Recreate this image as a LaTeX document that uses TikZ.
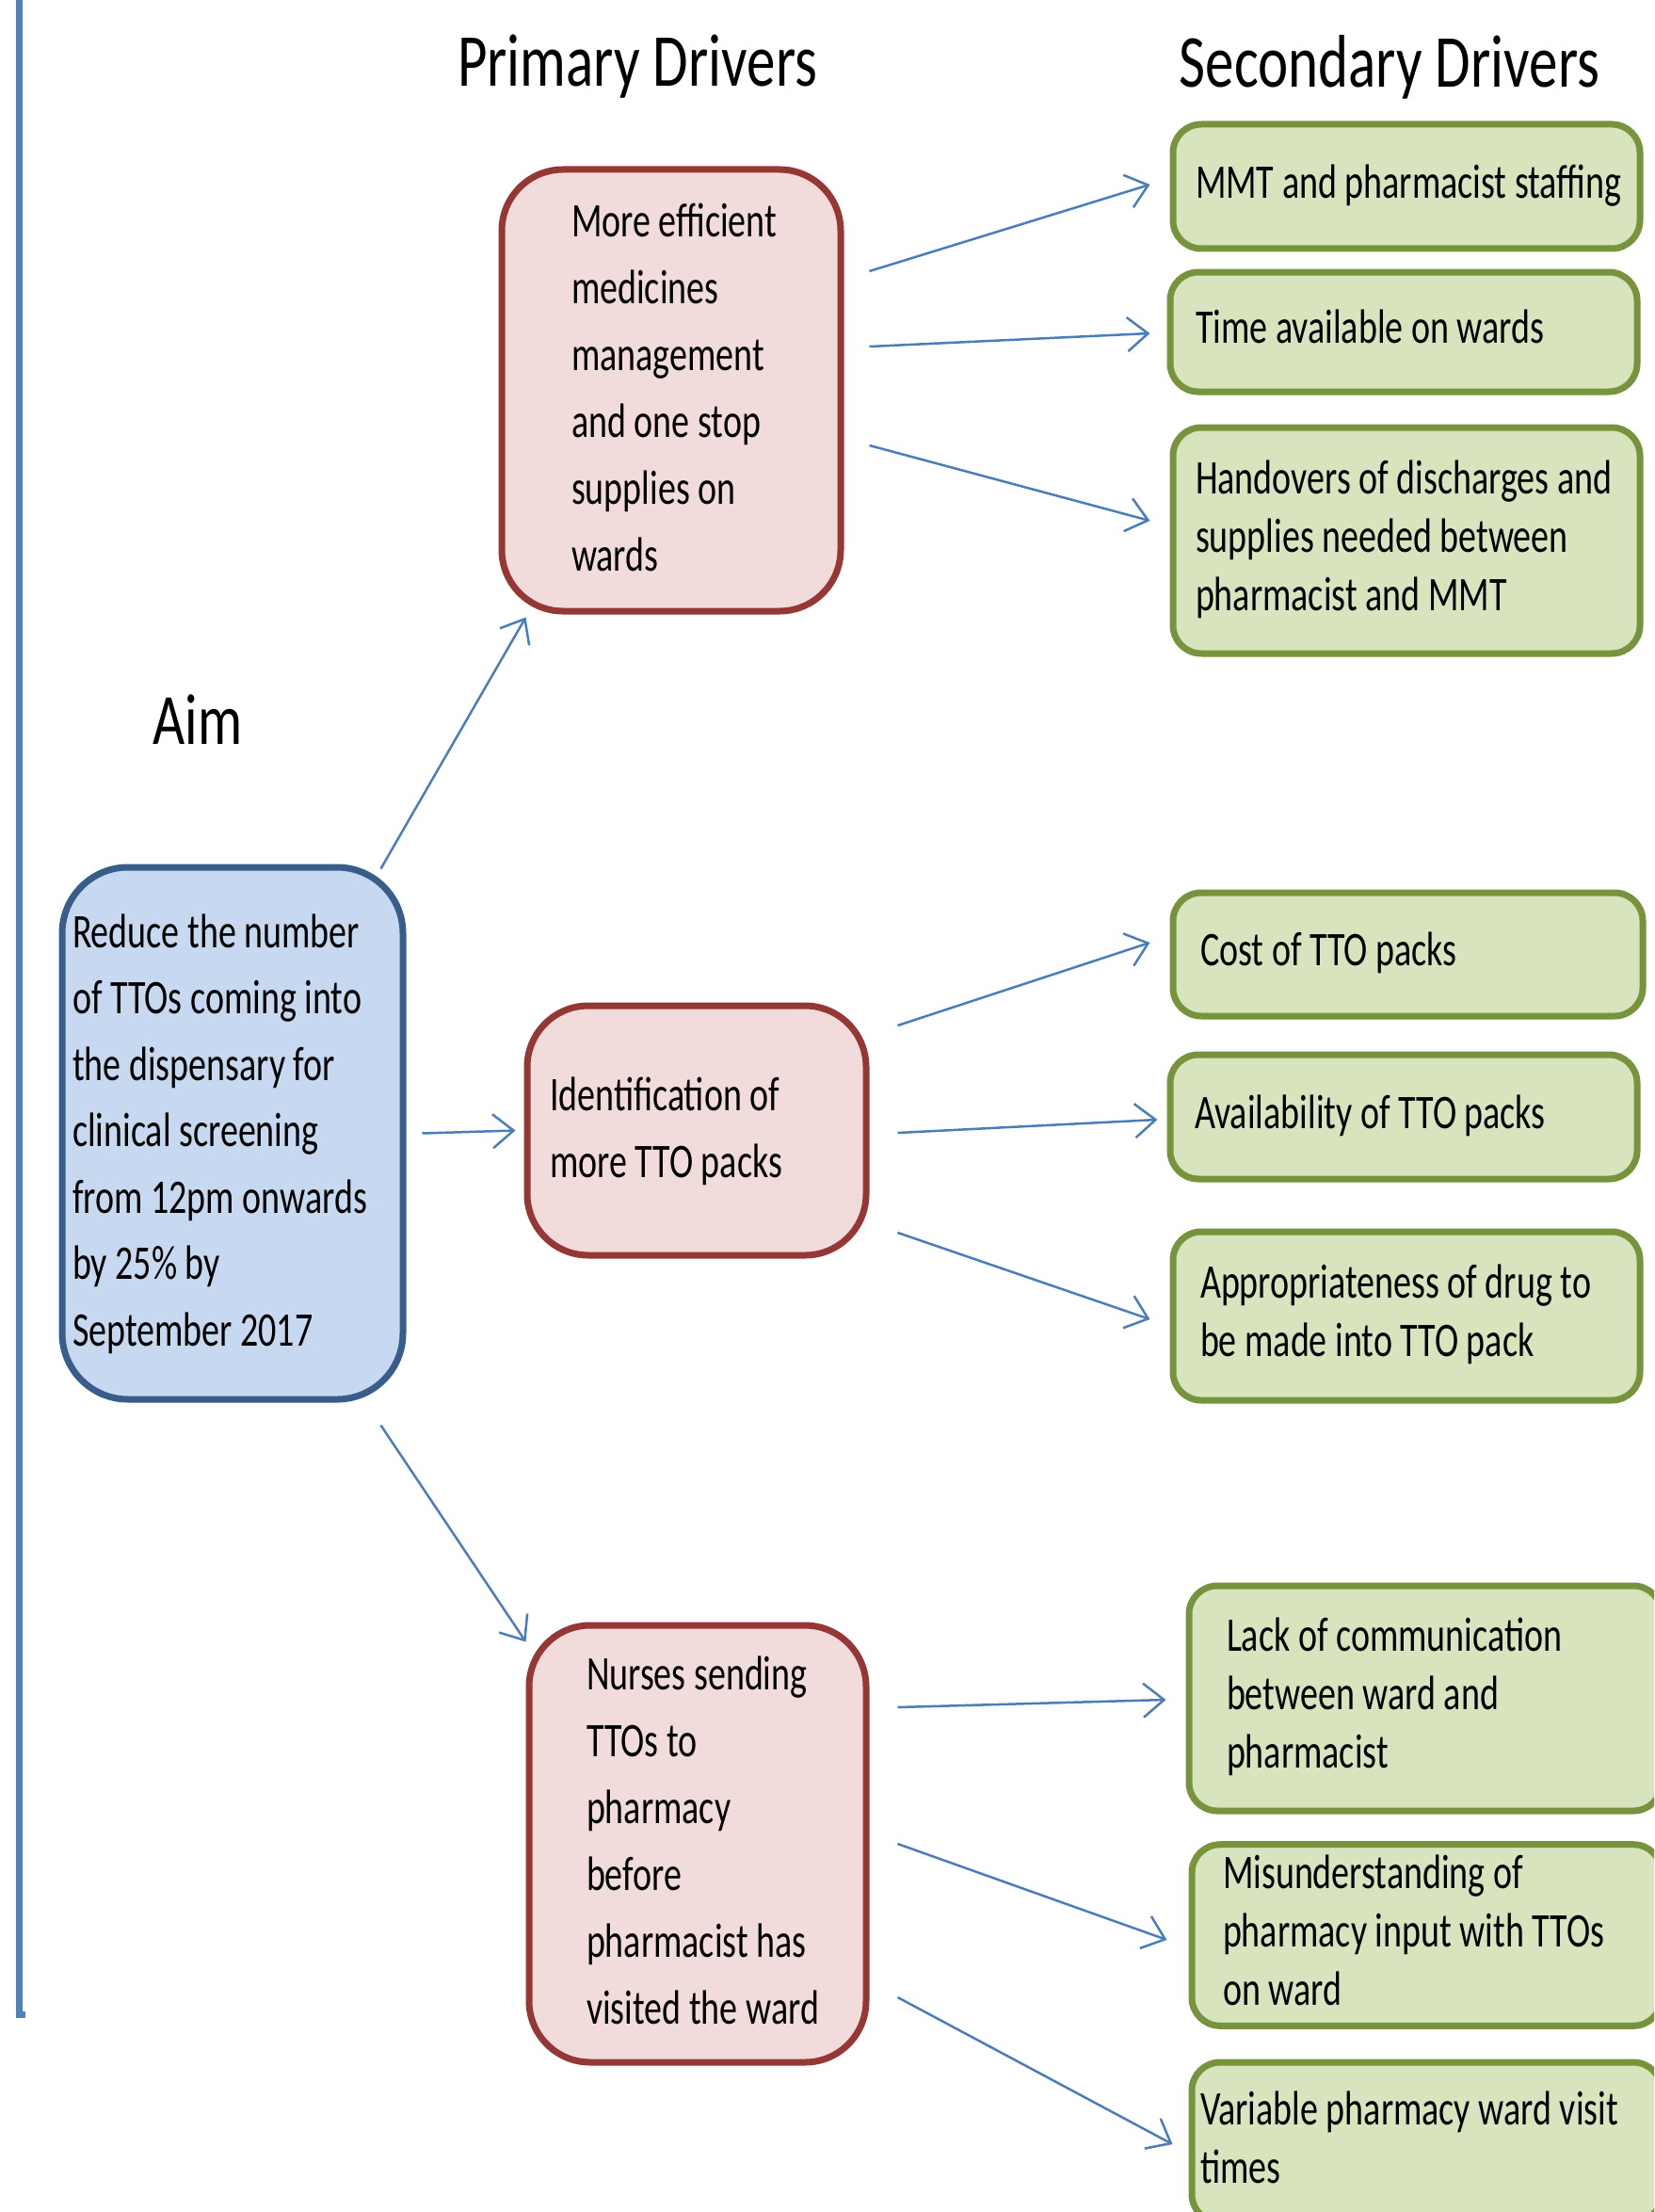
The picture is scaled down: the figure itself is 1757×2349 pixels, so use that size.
\documentclass[tikz,border=0pt]{standalone}
\usepackage{fontspec}
\setmainfont{Carlito}
\usepackage{graphicx}
\usetikzlibrary{arrows.meta}

\definecolor{aimline}{HTML}{385D8A}
\definecolor{aimfill}{HTML}{C6D9F1}
\definecolor{pline}{HTML}{953735}
\definecolor{pfill}{HTML}{F2DCDB}
\definecolor{sline}{HTML}{77933C}
\definecolor{sfill}{HTML}{D7E4BD}
\definecolor{arrline}{HTML}{4A7EBB}
\definecolor{edgeline}{HTML}{4F81BD}

% text is drawn tall and narrow, as in the original
\newcommand{\stretchtxt}[2]{\scalebox{1}[1.35]{\fontsize{38}{#1}\selectfont\spaceskip=0pt\xspaceskip=0pt\begin{tabular}{@{}l@{}}#2\end{tabular}}}
\newcommand{\headtxt}[2]{\scalebox{1}[1.3]{\fontsize{#1}{#1}\selectfont #2}}

\begin{document}
\begin{tikzpicture}[x=1pt,y=-1pt,
    aimbox/.style={draw=aimline, fill=aimfill, line width=7pt, rounded corners=70pt, align=left},
    pbox/.style={draw=pline, fill=pfill, line width=7pt, rounded corners=65pt, align=left},
    sbox/.style={draw=sline, fill=sfill, line width=7pt, rounded corners=30pt, align=left},
    arr/.style={draw=arrline, line width=2.5pt, -{Straight Barb[length=22pt,width=36pt]}},
    head/.style={anchor=base, inner sep=0pt}]
    \useasboundingbox (0,0) rectangle (1757,2349);
    \clip (0,0) rectangle (1757,2349);

    % left margin line
    \draw[edgeline, line width=7pt] (20.5,0)--(20.5,2143);
    \fill[edgeline] (17,2136) rectangle (27,2143);

    % headings
    \node[head] (haim) at (210,790) {\headtxt{59}{Aim}};
    \node[head] (hprim) at (677,92) {\headtxt{61}{Primary Drivers}};
    \node[head] (hsec) at (1476,93) {\headtxt{61}{Secondary Drivers}};

    % aim
    \node[aimbox, inner xsep=11pt, text width=340pt, minimum height=565pt] (aim) at (247,1203.5)
        {\stretchtxt{52.2}{Reduce the number\\of TTOs coming into\\the dispensary for\\clinical screening\\from 12pm onwards\\by 25\% by\\September 2017}};

    % primary drivers
    \node[pbox, inner xsep=74pt, text width=212pt, minimum height=469pt] (p1) at (713,414.5)
        {\stretchtxt{52.6}{More efficient\\medicines\\management\\and one stop\\supplies on\\wards}};
    \node[pbox, inner xsep=24pt, text width=312pt, minimum height=265pt] (p2) at (740,1200.5)
        {\stretchtxt{52.6}{Identification of\\more TTO packs}};
    \node[pbox, inner xsep=61pt, text width=236pt, minimum height=464pt] (p3) at (741,1958)
        {\stretchtxt{52.6}{Nurses sending\\TTOs to\\pharmacy\\before\\pharmacist has\\visited the ward}};

    % secondary drivers
    \node[sbox, inner xsep=24pt, text width=448pt, minimum height=132pt] (s1) at (1494,198)
        {\stretchtxt{45.9}{MMT and pharmacist staffing}};
    \node[sbox, inner xsep=27pt, text width=442pt, minimum height=127pt] (s2) at (1491,352.5)
        {\stretchtxt{45.9}{Time available on wards}};
    \node[sbox, inner xsep=24pt, text width=448pt, minimum height=240pt] (s3) at (1494,574)
        {\stretchtxt{45.9}{Handovers of discharges and\\supplies needed between\\pharmacist and MMT}};
    \node[sbox, inner xsep=29pt, text width=441pt, minimum height=131pt] (s4) at (1495.5,1013.5)
        {\stretchtxt{45.9}{Cost of TTO packs}};
    \node[sbox, inner xsep=26pt, text width=444pt, minimum height=132pt] (s5) at (1491,1186)
        {\stretchtxt{45.9}{Availability of TTO packs}};
    \node[sbox, inner xsep=29pt, text width=438pt, minimum height=179pt] (s6) at (1494,1397.5)
        {\stretchtxt{45.9}{Appropriateness of drug to\\be made into TTO pack}};
    \node[sbox, inner xsep=40pt, text width=422pt, minimum height=239pt] (s7) at (1514,1803.5)
        {\stretchtxt{45.9}{Lack of communication\\between ward and\\pharmacist}};
    \node[sbox, inner xsep=33pt, text width=433pt, minimum height=192pt] (s8) at (1515.5,2055)
        {\stretchtxt{45.9}{Misunderstanding of\\pharmacy input with TTOs\\on ward}};
    \node[sbox, inner xsep=9pt, text width=481pt, minimum height=170pt] (s9) at (1515.5,2275)
        {\stretchtxt{45.9}{Variable pharmacy ward visit\\times}};

    % aim to primary
    \draw[arr] ([shift={(-27,5)}]aim.north east)--([shift={(29,3)}]p1.south west);
    \draw[arr] ([shift={(17,0)}]aim.east)--([shift={(-9,0)}]p2.west);
    \draw[arr] ([shift={(-27,24)}]aim.south east)--([shift={(0,21)}]p3.north west);

    % primary to secondary
    \draw[arr] ([shift={(27,-126.5)}]p1.east)--([shift={(-21,-2)}]s1.west);
    \draw[arr] ([shift={(27,-46.5)}]p1.east)--([shift={(-18,1.5)}]s2.west);
    \draw[arr] ([shift={(27,58.5)}]p1.east)--([shift={(-21,-21)}]s3.west);
    \draw[arr] ([shift={(30,-111.5)}]p2.east)--([shift={(-21,-12.5)}]s4.west);
    \draw[arr] ([shift={(30,2.5)}]p2.east)--([shift={(-10,3)}]s5.west);
    \draw[arr] ([shift={(30,108.5)}]p2.east)--([shift={(-21,3.5)}]s6.west);
    \draw[arr] ([shift={(30,-145)}]p3.east)--([shift={(-21,1.5)}]s7.west);
    \draw[arr] ([shift={(30,0)}]p3.east)--([shift={(-23,5)}]s8.west);
    \draw[arr] ([shift={(30,163)}]p3.east)--([shift={(-17,2)}]s9.west);
\end{tikzpicture}
\end{document}
